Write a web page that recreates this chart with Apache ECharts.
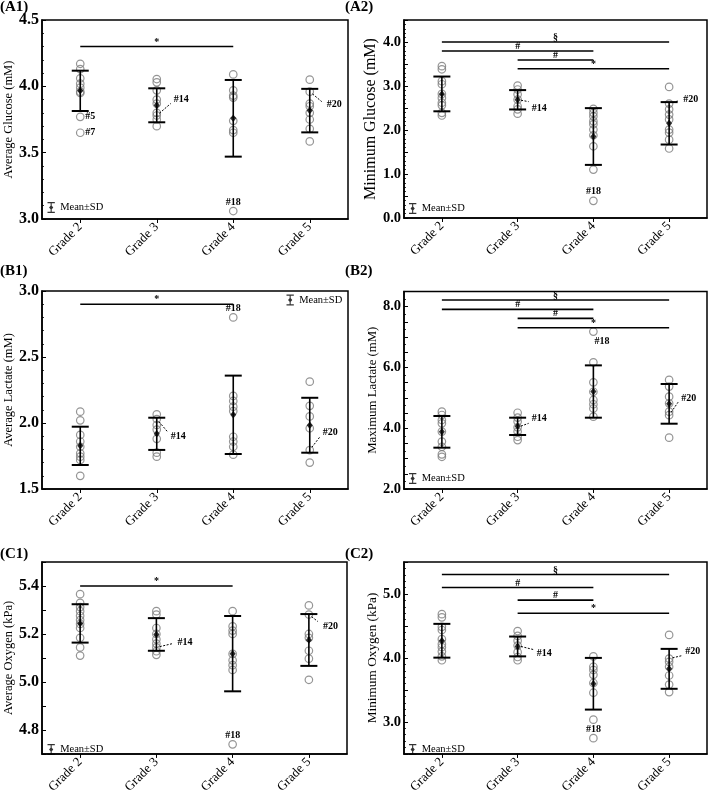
<!DOCTYPE html>
<html><head><meta charset="utf-8">
<script src="https://cdn.jsdelivr.net/npm/echarts@6/dist/echarts.min.js"></script>
<style>html,body{margin:0;padding:0;background:#fff}#c{width:709px;height:796px}</style>
</head><body><div id="c"></div>
<script>
const grades = ['Grade 2', 'Grade 3', 'Grade 4', 'Grade 5'];

// ---- A1 Average Glucose (mM)
const a1Points = [
  [4.17, 4.13, 4.06, 4.02, 3.99, 3.96, 3.95, 3.77, 3.65],
  [4.055, 4.03, 3.97, 3.90, 3.87, 3.80, 3.78, 3.75, 3.70],
  [4.09, 3.97, 3.93, 3.915, 3.74, 3.67, 3.65, 3.06],
  [4.05, 3.96, 3.87, 3.85, 3.80, 3.75, 3.68, 3.585]
];
const a1Means = [3.966, 3.857, 3.759, 3.817];
const a1SD = [0.152, 0.128, 0.289, 0.164];
const a1Sig = [[0, 2, 4.30, '*']];
const a1Notes = [[0, 3.77, '#5'], [0, 3.65, '#7'], [1, 3.78, '#14'], [2, 3.06, '#18'], [3, 3.96, '#20']];

// ---- A2 Minimum Glucose (mM)
const a2Points = [
  [3.45, 3.38, 3.11, 3.04, 2.82, 2.73, 2.62, 2.56, 2.39, 2.33],
  [3.01, 2.92, 2.81, 2.69, 2.54, 2.47, 2.37],
  [2.48, 2.39, 2.31, 2.20, 2.13, 2.01, 1.88, 1.63, 1.10, 0.39],
  [2.98, 2.60, 2.47, 2.35, 2.24, 2.01, 1.94, 1.78, 1.58]
];
const a2Means = [2.82, 2.687, 1.852, 2.152];
const a2SD = [0.395, 0.22, 0.645, 0.482];
const a2Sig = [[0, 3, 4.0, '§'], [0, 2, 3.795, '#'], [1, 2, 3.59, '#'], [1, 3, 3.393, '*']];
const a2Notes = [[1, 2.69, '#14'], [2, 0.39, '#18'], [3, 2.60, '#20']];

// ---- B1 Average Lactate (mM)
const b1Points = [
  [2.086, 2.02, 1.91, 1.86, 1.82, 1.77, 1.745, 1.72, 1.60],
  [2.066, 2.03, 1.985, 1.95, 1.88, 1.775, 1.745],
  [2.80, 2.205, 2.167, 2.124, 2.09, 1.896, 1.86, 1.82, 1.76],
  [2.313, 2.13, 2.05, 1.96, 1.795, 1.70]
];
const b1Means = [1.827, 1.918, 2.062, 1.983];
const b1SD = [0.145, 0.122, 0.297, 0.208];
const b1Sig = [[0, 2, 2.90, '*']];
const b1Notes = [[1, 2.03, '#14'], [2, 2.80, '#18'], [3, 1.795, '#20']];

// ---- B2 Maximum Lactate (mM)
const b2Points = [
  [4.545, 4.435, 4.27, 4.16, 3.89, 3.56, 3.39, 3.14, 3.06],
  [4.51, 4.35, 4.22, 4.03, 3.89, 3.72, 3.61],
  [7.18, 6.17, 5.51, 5.20, 4.93, 4.79, 4.65, 4.38],
  [5.59, 5.37, 5.04, 4.82, 4.545, 4.43, 3.69]
];
const b2Means = [3.881, 4.062, 5.208, 4.802];
const b2SD = [0.521, 0.285, 0.861, 0.653];
const b2Sig = [[0, 3, 8.219, '§'], [0, 2, 7.912, '#'], [1, 2, 7.616, '#'], [1, 3, 7.309, '*']];
const b2Notes = [[1, 4.03, '#14'], [2, 7.18, '#18'], [3, 4.43, '#20']];

// ---- C1 Average Oxygen (kPa)
const c1Points = [
  [5.366, 5.33, 5.312, 5.295, 5.276, 5.258, 5.242, 5.225, 5.184, 5.144, 5.11],
  [5.295, 5.281, 5.225, 5.2, 5.178, 5.16, 5.144, 5.128, 5.113],
  [5.295, 5.232, 5.214, 5.2, 5.117, 5.09, 5.07, 5.05, 4.74],
  [5.319, 5.281, 5.2, 5.184, 5.13, 5.097, 5.009]
];
const c1Means = [5.244, 5.198, 5.118, 5.175];
const c1SD = [0.08, 0.068, 0.157, 0.108];
const c1Sig = [[0, 2, 5.40, '*']];
const c1Notes = [[1, 5.144, '#14'], [2, 4.74, '#18'], [3, 5.281, '#20']];

// ---- C2 Minimum Oxygen (kPa)
const c2Points = [
  [4.685, 4.635, 4.487, 4.437, 4.294, 4.218, 4.168, 4.10, 4.025, 3.964],
  [4.421, 4.345, 4.27, 4.193, 4.091, 4.015, 3.964],
  [4.025, 3.863, 3.812, 3.736, 3.609, 3.457, 3.036, 2.746],
  [4.36, 3.99, 3.94, 3.863, 3.726, 3.584, 3.467]
];
const c2Means = [4.269, 4.18, 3.597, 3.83];
const c2SD = [0.264, 0.155, 0.404, 0.312];
const c2Sig = [[0, 3, 5.305, '§'], [0, 2, 5.102, '#'], [1, 2, 4.904, '#'], [1, 3, 4.70, '*']];
const c2Notes = [[1, 4.193, '#14'], [2, 2.746, '#18'], [3, 3.99, '#20']];

// ---------------- layout / style ----------------
const F = "'Liberation Serif', 'DejaVu Serif', serif";
const panels = [
  { tag: '(A1)', tagPos: [0, 0], grid: [42, 20, 306, 199], name: 'Average Glucose (mM)', nameSize: 12.5, nameGap: 26, labSize: 16,
    y: [3.0, 4.5, 0.5, 0.5, 5], pts: a1Points, means: a1Means, sd: a1SD, sig: a1Sig, notes: a1Notes,
    place: [[5, 0, 'left'], [5, 0, 'left'], [17, -16, 'left', 14, -12], [0, -9, 'center'], [17, 13, 'left', 12, 10]],
    legend: [47.5, 202] },
  { tag: '(A2)', tagPos: [345, 0], grid: [404, 20, 303, 198], name: 'Minimum Glucose (mM)', nameSize: 16, nameGap: 23, labSize: 14.5,
    y: [0, 4.5, 0.5, 1, 5], pts: a2Points, means: a2Means, sd: a2SD, sig: a2Sig, notes: a2Notes,
    place: [[14, 9, 'left', 11, 2], [0, -9, 'center'], [14, -4, 'left', 10, -3]],
    legend: [409, 203] },
  { tag: '(B1)', tagPos: [0, 264], grid: [42, 291, 306, 198], name: 'Average Lactate (mM)', nameSize: 12.5, nameGap: 26, labSize: 16,
    y: [1.5, 3.0, 0.5, 0.5, 5], pts: b1Points, means: b1Means, sd: b1SD, sig: b1Sig, notes: b1Notes,
    place: [[14, 17, 'left', 11, 13], [0, -9, 'center'], [13, -18, 'left', 10, -13]],
    legend: [286.5, 294.5] },
  { tag: '(B2)', tagPos: [345, 264], grid: [404, 291.5, 303, 197.5], name: 'Maximum Lactate (mM)', nameSize: 12.8, nameGap: 24, labSize: 14.5,
    y: [2.0, 8.5, 0.5, 2, 2], pts: b2Points, means: b2Means, sd: b2SD, sig: b2Sig, notes: b2Notes,
    place: [[14, -9, 'left', 11, -4], [1, 10, 'left'], [12, -17, 'left', 9, -13]],
    legend: [409, 473] },
  { tag: '(C1)', tagPos: [0, 547], grid: [42, 562, 305, 198], name: 'Average Oxygen (kPa)', nameSize: 12.5, nameGap: 26, labSize: 16,
    y: [4.7, 5.5, 0.1, 0.2, 0], pts: c1Points, means: c1Means, sd: c1SD, sig: c1Sig, notes: c1Notes,
    place: [[21, -5, 'left', 17, -4], [0, -9, 'center'], [14, 12, 'left', 9, 7]],
    legend: [47.5, 744] },
  { tag: '(C2)', tagPos: [345, 547], grid: [404, 562, 303, 197], name: 'Minimum Oxygen (kPa)', nameSize: 13.3, nameGap: 24, labSize: 14.5,
    y: [2.5, 5.5, 0.5, 1, 5], pts: c2Points, means: c2Means, sd: c2SD, sig: c2Sig, notes: c2Notes,
    place: [[19, 8, 'left', 16, 4], [0, -9, 'center'], [16, -7, 'left', 13, -3]],
    legend: [409, 744] }
];

const legendIcon = 'path://M0,0H8V1.3H0Z M3.4,1.3H4.6V10.7H3.4Z M0,10.7H8V12H0Z M4,3.4L6.3,6L4,8.6L1.7,6Z';

const option = { animation: false, backgroundColor: '#fff', title: [], grid: [], xAxis: [], yAxis: [], legend: [], series: [] };

panels.forEach((p, i) => {
  option.title.push({ text: p.tag, left: p.tagPos[0], top: p.tagPos[1], padding: 0,
    textStyle: { fontFamily: F, fontWeight: 'bold', fontSize: 15, color: '#000' } });
  option.grid.push({ left: p.grid[0], top: p.grid[1], width: p.grid[2], height: p.grid[3],
    show: true, borderColor: '#000', borderWidth: 1.5, backgroundColor: 'transparent', containLabel: false });
  option.xAxis.push({ type: 'category', gridIndex: i, data: grades, boundaryGap: true,
    axisLine: { show: true, onZero: false, lineStyle: { color: '#000', width: 1.5 } },
    axisTick: { show: true, alignWithLabel: true, inside: false, length: 4, lineStyle: { color: '#000', width: 1 } },
    axisLabel: { rotate: 45, margin: 6, fontFamily: F, fontSize: 13, color: '#000', interval: 0 },
    splitLine: { show: false } });
  const [ymin, ymax, yint, ylab, yminor] = p.y;
  option.yAxis.push({ type: 'value', gridIndex: i, min: ymin, max: ymax, interval: yint,
    name: p.name, nameLocation: 'middle', nameRotate: 90, nameGap: p.nameGap,
    nameTextStyle: { fontFamily: F, fontSize: p.nameSize, color: '#000' },
    axisLine: { show: true, lineStyle: { color: '#000', width: 1.5 } },
    axisTick: { show: true, inside: true, length: 4, lineStyle: { color: '#000', width: 1 } },
    minorTick: { show: yminor > 0, splitNumber: yminor || 5, length: 2, lineStyle: { color: '#000', width: 0.8 } },
    axisLabel: { margin: 3, fontFamily: F, fontSize: p.labSize, fontWeight: 'bold', color: '#000',
      formatter: v => { const r = v / ylab; return Math.abs(r - Math.round(r)) < 1e-6 && v <= ymax - 1e-9 + (ymax % ylab === 0 ? 1 : 0) ? v.toFixed(1) : ''; } },
    splitLine: { show: false }, minorSplitLine: { show: false } });

  // individual points
  const ptsData = [];
  p.pts.forEach((arr, g) => arr.forEach(v => ptsData.push([g, v])));
  option.series.push({ type: 'scatter', xAxisIndex: i, yAxisIndex: i, data: ptsData, symbol: 'circle', symbolSize: 7.5,
    itemStyle: { color: 'rgba(0,0,0,0)', borderColor: '#7a7a7a', borderWidth: 1.2 }, z: 2, silent: true });

  // error bars (mean ± SD)
  option.series.push({ type: 'custom', xAxisIndex: i, yAxisIndex: i, z: 3, silent: true,
    encode: { x: 0, y: [1, 2] },
    data: p.means.map((m, g) => [g, m - p.sd[g], m + p.sd[g]]),
    renderItem: (params, api) => {
      const x = api.value(0);
      const a = api.coord([x, api.value(1)]), b = api.coord([x, api.value(2)]);
      const w = 8.5;
      return { type: 'group', children: [
        { type: 'line', shape: { x1: a[0], y1: a[1], x2: b[0], y2: b[1] }, style: { stroke: '#000', lineWidth: 1.6 } },
        { type: 'line', shape: { x1: a[0] - w, y1: a[1], x2: a[0] + w, y2: a[1] }, style: { stroke: '#000', lineWidth: 2 } },
        { type: 'line', shape: { x1: b[0] - w, y1: b[1], x2: b[0] + w, y2: b[1] }, style: { stroke: '#000', lineWidth: 2 } }
      ] };
    } });

  // means
  option.series.push({ name: 'Mean±SD', type: 'scatter', xAxisIndex: i, yAxisIndex: i, z: 4, silent: true,
    data: p.means.map((m, g) => [g, m]), symbol: 'diamond', symbolSize: [6, 7.5], itemStyle: { color: '#000' } });

  // significance bars
  const sig = p.sig;
  option.series.push({ type: 'custom', xAxisIndex: i, yAxisIndex: i, z: 3, silent: true,
    encode: { x: 0, y: 2 },
    data: sig.map(s => [s[0], s[1], s[2]]),
    renderItem: (params, api) => {
      const s = sig[params.dataIndex];
      const a = api.coord([s[0], s[2]]), b = api.coord([s[1], s[2]]);
      return { type: 'group', children: [
        { type: 'line', shape: { x1: a[0], y1: a[1], x2: b[0], y2: b[1] }, style: { stroke: '#000', lineWidth: 1.6 } },
        { type: 'text', x: (a[0] + b[0]) / 2, y: a[1] - 4.5,
          style: { text: s[3], fontFamily: F, fontSize: 10, fontWeight: 'bold', fill: '#000', align: 'center', verticalAlign: 'middle' } }
      ] };
    } });

  // case annotations
  const notes = p.notes, place = p.place;
  option.series.push({ type: 'custom', xAxisIndex: i, yAxisIndex: i, z: 5, silent: true,
    encode: { x: 0, y: 1 },
    data: notes.map(n => [n[0], n[1]]),
    renderItem: (params, api) => {
      const n = notes[params.dataIndex], pl = place[params.dataIndex];
      const c = api.coord([n[0], n[1]]);
      const kids = [{ type: 'text', x: c[0] + pl[0], y: c[1] + pl[1],
        style: { text: n[2], fontFamily: F, fontSize: 10, fontWeight: 'bold', fill: '#000', align: pl[2], verticalAlign: 'middle' } }];
      if (pl.length > 3) {
        const len = Math.hypot(pl[3], pl[4]);
        const sx = c[0] + pl[3] / len * 3.5, sy = c[1] + pl[4] / len * 3.5;
        kids.push({ type: 'line', shape: { x1: sx, y1: sy, x2: c[0] + pl[3], y2: c[1] + pl[4] },
          style: { stroke: '#000', lineWidth: 1, lineDash: [2, 1.5] } });
      }
      return { type: 'group', children: kids };
    } });

  option.legend.push({ data: ['Mean±SD'], left: p.legend[0], top: p.legend[1], padding: 0, selectedMode: false,
    icon: legendIcon, itemWidth: 8, itemHeight: 11,
    textStyle: { fontFamily: F, fontSize: 10.5, color: '#000' } });
});

const chart = echarts.init(document.getElementById('c'), null, { renderer: 'canvas' });
chart.setOption(option);
</script></body></html>
